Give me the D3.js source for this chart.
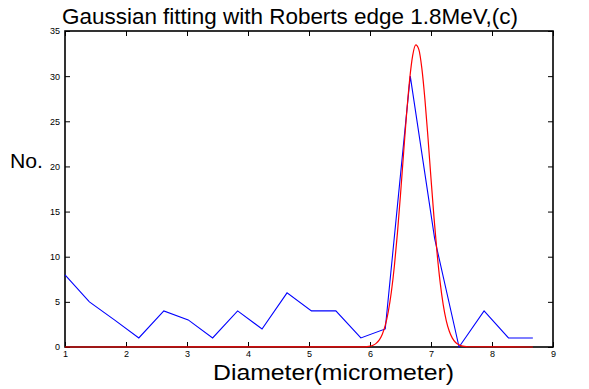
<!DOCTYPE html>
<html><head><meta charset="utf-8">
<script src="https://cdn.jsdelivr.net/npm/d3@7"></script>
<style>
html,body{margin:0;padding:0;background:#fff;}
svg{display:block;font-family:"Liberation Sans",Arial,sans-serif;}
</style></head>
<body>
<svg id="chart" width="589" height="389"></svg>
<script>
// Measured histogram (blue)
const diameters = [1.00, 1.40, 1.81, 2.21, 2.62, 3.02, 3.42, 3.83, 4.23, 4.64, 5.04, 5.44, 5.85, 6.25, 6.66, 7.06, 7.46, 7.87, 8.27, 8.67];
const counts    = [8, 5, 3, 1, 4, 3, 1, 4, 2, 6, 4, 4, 1, 2, 30, 12, 0, 4, 1, 1];
const fitX = [1.00, 5.90, 5.95, 6.00, 6.05, 6.10, 6.15, 6.20, 6.25, 6.30, 6.35, 6.40, 6.45, 6.50, 6.55, 6.60, 6.65, 6.70, 6.75, 6.80, 6.85, 6.90, 6.95, 7.00, 7.05, 7.10, 7.15, 7.20, 7.25, 7.30, 7.35, 7.40, 7.45, 7.50, 7.55, 7.60, 8.67];
const fitY = [0, 0.018, 0.043, 0.096, 0.201, 0.403, 0.768, 1.39, 2.39, 3.91, 6.09, 9.00, 12.64, 16.87, 21.42, 25.84, 29.63, 32.30, 33.47, 32.96, 30.86, 27.46, 23.23, 18.67, 14.27, 10.37, 7.16, 4.70, 2.93, 1.74, 0.98, 0.525, 0.267, 0.130, 0.060, 0.026, 0];
const xTicks = [1, 2, 3, 4, 5, 6, 7, 8, 9];
const yTicks = [0, 5, 10, 15, 20, 25, 30, 35];
const titleText = "Gaussian fitting with Roberts edge 1.8MeV,(c)";
const xLabelText = "Diameter(micrometer)";
const yLabelText = "No.";

const svg = d3.select("#chart");
const L = 65, R = 553, T = 31, B = 347;
const x = d3.scaleLinear().domain([1, 9]).range([L, R]);
const y = d3.scaleLinear().domain([0, 35]).range([B, T]);

const fmt = d3.format("d");
function styleAxis(g){
  g.select(".domain").remove();
  g.selectAll(".tick line").attr("stroke","#000").attr("stroke-width",1);
  g.selectAll(".tick text").attr("font-size",9).attr("fill","#000").attr("font-family","Liberation Sans, Arial, sans-serif");
}
svg.append("g").attr("transform",`translate(0,${B})`)
  .call(d3.axisBottom(x).tickValues(xTicks).tickFormat(fmt).tickSize(-5).tickPadding(4)).call(styleAxis);
svg.append("g").attr("transform",`translate(0,${T})`)
  .call(d3.axisTop(x).tickValues(xTicks).tickFormat("").tickSize(-5)).call(styleAxis);
svg.append("g").attr("transform",`translate(${L},0)`)
  .call(d3.axisLeft(y).tickValues(yTicks).tickFormat(fmt).tickSize(-5).tickPadding(5)).call(styleAxis);
svg.append("g").attr("transform",`translate(${R},0)`)
  .call(d3.axisRight(y).tickValues(yTicks).tickFormat("").tickSize(-5)).call(styleAxis);

svg.append("rect").attr("x",L).attr("y",T).attr("width",R-L).attr("height",B-T)
  .attr("fill","none").attr("stroke","#000").attr("stroke-width",1.6);

const blue = d3.line().x((d,i)=>x(diameters[i])).y(d=>y(d));
svg.append("path").datum(counts).attr("d",blue)
  .attr("fill","none").attr("stroke","#0000ff").attr("stroke-width",1.1);

const red = d3.line().x((d,i)=>x(fitX[i])).y(d=>y(d)).curve(d3.curveMonotoneX);
svg.append("path").datum(fitY).attr("d",red)
  .attr("fill","none").attr("stroke","#ff0000").attr("stroke-width",1.2);

svg.append("text").attr("x",62).attr("y",24).attr("text-anchor","start")
  .attr("font-size",22).attr("fill","#000")
  .attr("textLength",456).attr("lengthAdjust","spacingAndGlyphs").text(titleText);
svg.append("text").attr("x",213).attr("y",380).attr("text-anchor","start")
  .attr("font-size",22).attr("fill","#000")
  .attr("textLength",241).attr("lengthAdjust","spacingAndGlyphs").text(xLabelText);
svg.append("text").attr("x",10).attr("y",168).attr("text-anchor","start")
  .attr("font-size",20).attr("fill","#000")
  .attr("textLength",33).attr("lengthAdjust","spacingAndGlyphs").text(yLabelText);
</script>
</body></html>
